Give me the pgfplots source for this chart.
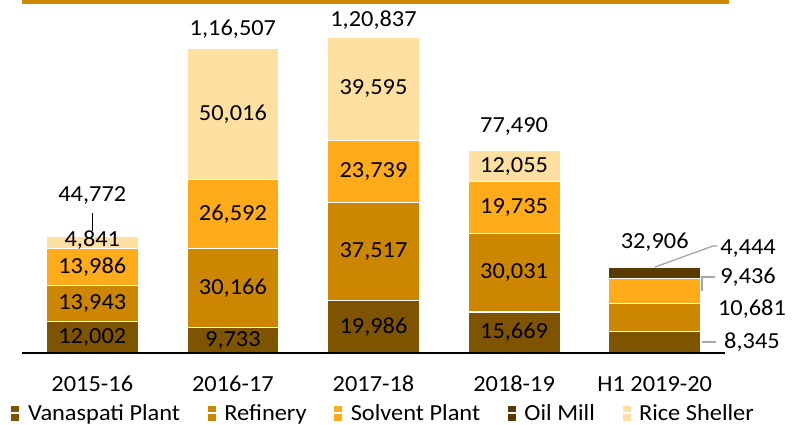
\documentclass[border=0pt]{standalone}
\usepackage{pgfplots}
\pgfplotsset{compat=1.18}
\usepackage{fontspec}
\setmainfont{Carlito}[FakeStretch=1.06]
\definecolor{vana}{RGB}{127,84,0}
\definecolor{refi}{RGB}{204,134,0}
\definecolor{solv}{RGB}{255,171,26}
\definecolor{oilm}{RGB}{89,58,0}
\definecolor{rice}{RGB}{255,224,160}
\definecolor{goldline}{RGB}{204,136,0}
\definecolor{leadc}{RGB}{166,166,166}
\newcommand{\lf}{\fontsize{23pt}{27pt}\selectfont}
\pgfplotsset{base/.style={at={(0,0)}, anchor=south west,
  scale only axis, width=703pt, height=351pt,
  xmin=-0.5, xmax=4.5, ymin=0, ymax=134220, clip=false}}
\begin{document}
\begin{tikzpicture}
\useasboundingbox (-22pt,-72pt) rectangle (783pt,353pt);
\begin{axis}[
  base, axis on top,
  ybar stacked, bar width=92pt,
  axis x line*=bottom, axis y line=none,
  axis line style={black, line width=1.5pt},
  xtick={0,1,2,3,4},
  xticklabels={{2015-16},{2016-17},{2017-18},{2018-19},{H1 2019-20}},
  major tick length=0pt,
  xticklabel style={font=\lf, anchor=base, yshift=-38pt},
  legend style={at={(0.514,-0.171)}, anchor=center, draw=none, fill=none,
    legend columns=-1, font=\lf,
    /tikz/every even column/.append style={column sep=25pt},
    /tikz/every odd column/.append style={column sep=0pt}},
  legend image code/.code={\fill[#1,draw=none] (0pt,-7.5pt) rectangle (8pt,7.5pt);
     \path (0pt,0pt) -- (14pt,0pt);},
  every axis plot/.append style={draw=white, line width=1.2pt},
]
\addplot[fill=vana] coordinates {(0,12002) (1,9733) (2,19986) (3,15669) (4,8345)};
\addplot[fill=refi] coordinates {(0,13943) (1,30166) (2,37517) (3,30031) (4,10681)};
\addplot[fill=solv] coordinates {(0,13986) (1,26592) (2,23739) (3,19735) (4,9436)};
\addplot[fill=oilm] coordinates {(0,0) (1,0) (2,0) (3,0) (4,4444)};
\addplot[fill=rice] coordinates {(0,4841) (1,50016) (2,39595) (3,12055) (4,0)};
\legend{Vanaspati Plant, Refinery, Solvent Plant, Oil Mill, Rice Sheller}
\end{axis}
\begin{axis}[base, hide axis]
\draw[goldline, line width=4pt] (rel axis cs:0,1) -- (rel axis cs:1.005,1);
% segment labels
\node[font=\lf] at (axis cs:0,6001) {12,002};
\node[font=\lf] at (axis cs:0,18973) {13,943};
\node[font=\lf] at (axis cs:0,32938) {13,986};
\node[font=\lf] at (axis cs:0,43300) {4,841};
\node[font=\lf] at (axis cs:1,4867) {9,733};
\node[font=\lf] at (axis cs:1,24816) {30,166};
\node[font=\lf] at (axis cs:1,53195) {26,592};
\node[font=\lf] at (axis cs:1,91499) {50,016};
\node[font=\lf] at (axis cs:2,9993) {19,986};
\node[font=\lf] at (axis cs:2,38745) {37,517};
\node[font=\lf] at (axis cs:2,69373) {23,739};
\node[font=\lf] at (axis cs:2,101040) {39,595};
\node[font=\lf] at (axis cs:3,7835) {15,669};
\node[font=\lf] at (axis cs:3,30685) {30,031};
\node[font=\lf] at (axis cs:3,55568) {19,735};
\node[font=\lf] at (axis cs:3,71463) {12,055};
% H1 labels
\node[font=\lf] at (axis cs:4.664,39769) {4,444};
\node[font=\lf] at (axis cs:4.664,29062) {9,436};
\node[font=\lf] at (axis cs:4.692,16825) {10,681};
\node[font=\lf] at (axis cs:4.692,4206) {8,345};
\draw[leadc, line width=1.3pt] (axis cs:4.002,32886) -- (axis cs:4.415,40916) -- (axis cs:4.445,40916);
\draw[leadc, line width=1.3pt] (axis cs:4.336,23708) -- (axis cs:4.336,29062) -- (axis cs:4.43,29062);
\draw[leadc, line width=1.3pt] (axis cs:4.336,4206) -- (axis cs:4.435,4206);
% totals
\node[font=\lf] at (axis cs:0,60036) {44,772};
\draw[black, line width=1pt] (axis cs:0,53535) -- (axis cs:0,46505);
\node[font=\lf] at (axis cs:1,123896) {1,16,507};
\node[font=\lf] at (axis cs:2,127337) {1,20,837};
\node[font=\lf] at (axis cs:3,86421) {77,490};
\node[font=\lf] at (axis cs:4,42446) {32,906};
\end{axis}
\end{tikzpicture}
\end{document}
